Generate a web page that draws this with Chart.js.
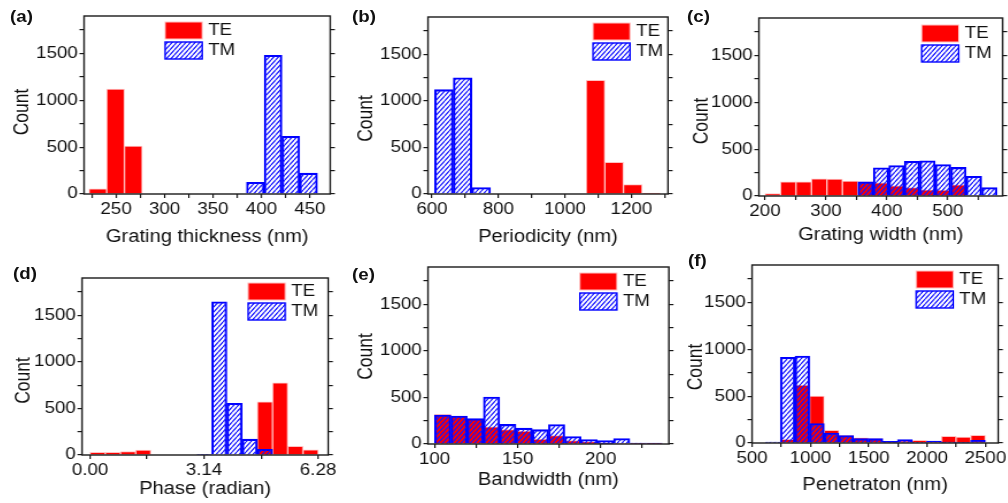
<!DOCTYPE html>
<html>
<head>
<meta charset="utf-8">
<title>TE / TM parameter histograms</title>
<script src="https://cdn.jsdelivr.net/npm/chart.js@4.4.1/dist/chart.umd.min.js"></script>
<style>
  html, body { margin: 0; padding: 0; background: #fff; }
  body { position: relative; width: 1008px; height: 503px; overflow: hidden; font-family: "Liberation Sans", Arial, sans-serif; }
  canvas { position: absolute; }
  .tag { position: absolute; font-weight: bold; font-size: 16.3px; line-height: 1; color: #111; transform: scaleX(1.15); transform-origin: 0 0; }
</style>
</head>
<body>
<canvas id="thickness"></canvas>
<canvas id="period"></canvas>
<canvas id="width"></canvas>
<canvas id="phase"></canvas>
<canvas id="band"></canvas>
<canvas id="depth"></canvas>

<div class="tag" style="left:10px;top:8px">(a)</div>
<div class="tag" style="left:352px;top:8px">(b)</div>
<div class="tag" style="left:687px;top:8px">(c)</div>
<div class="tag" style="left:13px;top:265px">(d)</div>
<div class="tag" style="left:352px;top:266px">(e)</div>
<div class="tag" style="left:688px;top:252px">(f)</div>

<script>
// --- shared count axis ---
const countTicks = [0, 250, 500, 750, 1000, 1250, 1500, 1750];
const countLabels = [0, 500, 1000, 1500];

// (a) grating thickness (nm): bin centres and counts
const thicknessBinsTE = [231.2, 249.5, 267.8];
const thicknessTE = [55, 1120, 512];
const thicknessBinsTM = [393.7, 412.0, 430.3, 448.6];
const thicknessTM = [125, 1480, 615, 222];
const thicknessTicks = [225, 250, 275, 300, 325, 350, 375, 400, 425, 450];
const thicknessLabels = [250, 300, 350, 400, 450];

// (b) periodicity (nm)
const periodBinsTE = [1092, 1148, 1204, 1260];
const periodTE = [1220, 340, 100, 10];
const periodBinsTM = [636, 692, 748];
const periodTM = [1120, 1248, 70];
const periodTicks = [600, 700, 800, 900, 1000, 1100, 1200, 1300];
const periodLabels = [600, 800, 1000, 1200];

// (c) grating width (nm)
const widthBinsTE = [212.7, 238.1, 263.5, 288.9, 314.3, 339.7, 365.1, 390.5, 415.9, 441.3, 466.7, 492.1, 517.5];
const widthTE = [25, 150, 152, 182, 180, 160, 150, 140, 108, 90, 66, 62, 118];
const widthBinsTM = [365.1, 390.5, 415.9, 441.3, 466.7, 492.1, 517.5, 542.9, 568.3];
const widthTM = [150, 300, 325, 370, 375, 335, 305, 210, 90];
const widthTicks = [200, 250, 300, 350, 400, 450, 500, 550];
const widthLabels = [200, 300, 400, 500];

// (d) phase (rad)
const phaseBinsTE = [0.209, 0.628, 1.047, 1.466, 4.817, 5.236, 5.655, 6.074];
const phaseTE = [28, 28, 38, 52, 572, 775, 92, 56];
const phaseBinsTM = [3.142, 3.560, 3.979, 4.398, 4.817];
const phaseTM = [4, 1645, 555, 170, 62];
const phaseTicks = [0, 1.57, 3.14, 4.71, 6.28];
const phaseLabels = [0, 3.14, 6.28];

// (e) bandwidth (nm), both polarisations share the bins
const bandBins = [104.90, 114.69, 124.48, 134.27, 144.06, 153.85, 163.64, 173.43, 183.22, 193.01, 202.80, 212.59, 222.38, 232.17];
const bandTE = [318, 298, 268, 183, 156, 138, 52, 90, 38, 22, 11, 6, 4, 3];
const bandTM = [310, 300, 272, 505, 210, 170, 154, 209, 79, 48, 36, 58, 11, 10];
const bandTicks = [100, 125, 150, 175, 200, 225];
const bandLabels = [100, 150, 200];

// (f) penetration depth (nm)
const depthBinsTE = [805.3, 930.8, 1056.3, 1181.8, 1307.3, 1432.8, 1558.3, 1683.8, 1809.3, 1934.8, 2060.3, 2185.8, 2311.3, 2436.8];
const depthTE = [40, 618, 500, 136, 82, 54, 46, 14, 21, 29, 21, 71, 64, 82];
const depthBinsTM = [679.8, 805.3, 930.8, 1056.3, 1181.8, 1307.3, 1432.8, 1558.3, 1683.8, 1809.3, 1934.8, 2060.3, 2185.8, 2311.3, 2436.8];
const depthTM = [11, 914, 929, 207, 107, 79, 46, 46, 18, 36, 7, 21, 11, 4, 29];

const depthTicks = [500, 750, 1000, 1250, 1500, 1750, 2000, 2250, 2500];
const depthLabels = [500, 1000, 1500, 2000, 2500];

// --- look ---
const SX = 1.15;          // horizontal stretch applied to each canvas
const TOP = 16;           // space above each plot box
const INK = '#111';
const FAMILY = '"Liberation Sans", Arial, sans-serif';
const TICK_SIZE = 16.3;
const TITLE_SIZE = 17.5;

Chart.defaults.font.family = FAMILY;
Chart.defaults.font.size = TICK_SIZE;
Chart.defaults.color = INK;

const tickMarks = { drawOnChartArea: false, drawTicks: true, tickLength: 4, color: '#1a1a1a', lineWidth: 1.2, offset: false };

// blue diagonal hatch used for the TM bars
function hatch(ctx) {
    const tile = document.createElement('canvas');
    tile.width = 4;
    tile.height = 5;
    const g = tile.getContext('2d');
    g.strokeStyle = '#1414ff';
    g.lineWidth = 1.2;
    g.beginPath();
    for (const dx of [-4, 0, 4]) {
        g.moveTo(dx, 5);
        g.lineTo(dx + 4, 0);
    }
    g.stroke();
    return ctx.createPattern(tile, 'repeat');
}

// box around the plot area, drawn over the bars
const frame = {
    id: 'frame',
    afterDatasetsDraw(chart) {
        const { ctx, chartArea: a } = chart;
        ctx.save();
        ctx.strokeStyle = '#1a1a1a';
        ctx.lineWidth = 1.4;
        ctx.strokeRect(a.left, a.top, a.width, a.height);
        ctx.restore();
    }
};

// rotated "Count" label left of the plot
const countTitle = {
    id: 'countTitle',
    afterDraw(chart, args, o) {
        const { ctx, chartArea: a } = chart;
        ctx.save();
        ctx.translate(a.left - o.gap / SX, (a.top + a.bottom) / 2 + o.shift);
        ctx.rotate(-Math.PI / 2);
        ctx.font = TITLE_SIZE + 'px ' + FAMILY;
        ctx.fillStyle = INK;
        ctx.textAlign = 'center';
        ctx.textBaseline = 'middle';
        ctx.fillText(o.text, 0, 0);
        ctx.restore();
    }
};

// legend with filled swatches inside the plot box
const boxLegend = {
    id: 'boxLegend',
    afterDraw(chart, args, o) {
        const { ctx, chartArea: a } = chart;
        const x = a.left + o.x / SX;
        const w = 37 / SX;
        ctx.save();
        ctx.font = TICK_SIZE + 'px ' + FAMILY;
        ctx.textBaseline = 'middle';
        chart.data.datasets.forEach((ds, i) => {
            const y = a.top + o.y + i * 20;
            ctx.fillStyle = ds.backgroundColor;
            ctx.fillRect(x, y, w, 17);
            ctx.strokeStyle = ds.borderColor;
            ctx.lineWidth = ds.borderWidth;
            ctx.strokeRect(x, y, w, 17);
            ctx.fillStyle = INK;
            ctx.fillText(ds.label, x + w + 6 / SX, y + 9);
        });
        ctx.restore();
    }
};

const pairs = (xs, ys) => xs.map((x, i) => ({ x, y: ys[i] }));

const panels = [
    { id: 'thickness', box: [84, 16, 330, 194], axisH: 55, range: [217, 471],
      ticks: thicknessTicks, labels: thicknessLabels, title: 'Grating thickness (nm)',
      te: [thicknessBinsTE, thicknessTE], tm: [thicknessBinsTM, thicknessTM],
      count: { gap: 61, shift: 7 }, legend: { x: 81, y: 6 } },
    { id: 'period', box: [428, 17, 668, 194], axisH: 55, range: [588, 1310],
      ticks: periodTicks, labels: periodLabels, title: 'Periodicity (nm)',
      te: [periodBinsTE, periodTE], tm: [periodBinsTM, periodTM],
      count: { gap: 61, shift: 13 }, legend: { x: 165, y: 6 } },
    { id: 'width', box: [759, 18, 1003, 196], axisH: 51, range: [190, 590],
      ticks: widthTicks, labels: widthLabels, title: 'Grating width (nm)',
      te: [widthBinsTE, widthTE], tm: [widthBinsTM, widthTM],
      count: { gap: 57, shift: 14 }, legend: { x: 163, y: 7 } },
    { id: 'phase', box: [82, 278, 328, 455], axisH: 46, range: [-0.22, 6.56],
      ticks: phaseTicks, labels: phaseLabels, title: 'Phase (radian)', fmt: v => v.toFixed(2),
      te: [phaseBinsTE, phaseTE], tm: [phaseBinsTM, phaseTM],
      count: { gap: 58, shift: 14 }, legend: { x: 166, y: 5 } },
    { id: 'band', box: [428, 267, 669, 444], axisH: 48, range: [96, 241],
      ticks: bandTicks, labels: bandLabels, title: 'Bandwidth (nm)',
      te: [bandBins, bandTE], tm: [bandBins, bandTM],
      count: { gap: 61, shift: 1 }, legend: { x: 152, y: 6 } },
    { id: 'depth', box: [752, 265, 998, 443], axisH: 54, range: [500, 2610],
      ticks: depthTicks, labels: depthLabels, title: 'Penetraton (nm)',
      te: [depthBinsTE, depthTE], tm: [depthBinsTM, depthTM],
      count: { gap: 56, shift: 13 }, legend: { x: 164, y: 6 } }
];

function drawPanel(p) {
    const canvas = document.getElementById(p.id);
    const [L, T, R, B] = p.box;
    const left = 80 / SX;
    const plotW = (R - L) / SX;
    const w = Math.ceil(left + plotW + 24 / SX);
    const right = w - left - plotW;
    const h = (B - T) + TOP + p.axisH;
    canvas.width = w;
    canvas.height = h;
    canvas.style.width = (w * SX) + 'px';
    canvas.style.height = h + 'px';
    canvas.style.left = (L - 80) + 'px';
    canvas.style.top = (T - TOP) + 'px';
    const ctx = canvas.getContext('2d');

    const countAxis = extra => Object.assign({
        type: 'linear', min: 0, max: 1900,
        afterBuildTicks: s => { s.ticks = countTicks.map(value => ({ value })); },
        grid: tickMarks,
        border: { display: false }
    }, extra);

    new Chart(canvas, {
        type: 'bar',
        data: {
            datasets: [
                { label: 'TE', data: pairs(p.te[0], p.te[1]), xAxisID: 'x', yAxisID: 'y',
                  backgroundColor: '#ff0000', borderColor: '#ffc2c2', borderWidth: 1, order: 2 },
                { label: 'TM', data: pairs(p.tm[0], p.tm[1]), xAxisID: 'x2', yAxisID: 'y',
                  backgroundColor: hatch(ctx), borderColor: '#0000ff', borderWidth: 1.4, order: 1 }
            ]
        },
        options: {
            responsive: false,
            animation: false,
            devicePixelRatio: 1,
            events: [],
            layout: { padding: { top: TOP, left: 0, right: 0, bottom: 0 } },
            datasets: { bar: { categoryPercentage: 1, barPercentage: 1, grouped: false } },
            scales: {
                x: {
                    type: 'linear', position: 'bottom', offset: false,
                    min: p.range[0], max: p.range[1],
                    afterBuildTicks: s => { s.ticks = p.ticks.map(value => ({ value })); },
                    afterFit: s => { s.height = p.axisH; },
                    ticks: {
                        autoSkip: false, maxRotation: 0, padding: 2,
                        callback: v => p.labels.includes(v) ? (p.fmt ? p.fmt(v) : v) : ''
                    },
                    grid: tickMarks,
                    border: { display: false },
                    title: { display: true, text: p.title, font: { size: TITLE_SIZE }, padding: { top: 0, bottom: 1.5 } }
                },
                x2: {
                    type: 'linear', display: false, offset: false,
                    min: p.range[0], max: p.range[1],
                    afterBuildTicks: s => { s.ticks = []; },
                    ticks: { display: false },
                    grid: { offset: false }
                },
                y: countAxis({
                    position: 'left',
                    afterFit: s => { s.width = left; },
                    ticks: { padding: 1.5, callback: v => countLabels.includes(v) ? v : '' }
                }),
                yR: countAxis({
                    position: 'right',
                    afterFit: s => { s.width = right; },
                    ticks: { display: false }
                })
            },
            plugins: {
                legend: { display: false },
                tooltip: { enabled: false },
                countTitle: { text: 'Count', gap: p.count.gap, shift: p.count.shift },
                boxLegend: p.legend
            }
        },
        plugins: [frame, countTitle, boxLegend]
    });
}

panels.forEach(drawPanel);
</script>
</body>
</html>
